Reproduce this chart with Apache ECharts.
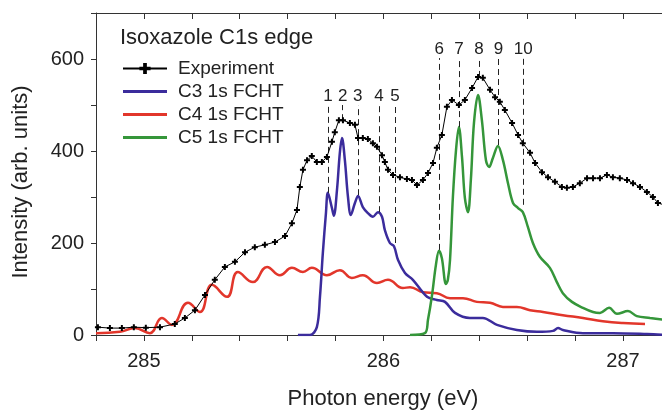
<!DOCTYPE html>
<html>
<head>
<meta charset="utf-8">
<script src="https://cdn.jsdelivr.net/npm/echarts@6/dist/echarts.min.js"></script>
<style>
html,body{margin:0;padding:0;background:#fff;overflow:hidden;width:662px;height:412px;}
#c{width:662px;height:412px;overflow:hidden;}
</style>
</head>
<body>
<div id="c"></div>
<script>
// ---------- data ----------
const titleText = 'Isoxazole C1s edge';
const xAxisTitle = 'Photon energy (eV)';
const yAxisTitle = 'Intensity (arb. units)';
const seriesNames = ['Experiment', 'C3 1s FCHT', 'C4 1s FCHT', 'C5 1s FCHT'];
const xTickLabels = [285, 286, 287];
const yTickLabels = [0, 200, 400, 600];

const expE = [284.808,284.858,284.908,284.958,285.008,285.067,285.129,285.171,285.213,285.255,285.296,285.338,285.380,285.422,285.463,285.505,285.547,285.589,285.618,285.639,285.651,285.664,285.681,285.701,285.722,285.743,285.764,285.785,285.797,285.814,285.831,285.860,285.881,285.894,285.914,285.935,285.956,285.973,285.994,286.006,286.019,286.040,286.069,286.098,286.119,286.140,286.165,286.186,286.207,286.223,286.244,286.265,286.286,286.315,286.340,286.370,286.395,286.415,286.445,286.466,286.486,286.507,286.537,286.562,286.582,286.612,286.633,286.662,286.687,286.716,286.745,286.766,286.791,286.820,286.850,286.875,286.904,286.933,286.958,286.987,287.017,287.042,287.071,287.100,287.125,287.146,287.171];
const expI = [17,15,15,17,16,17,24,37,54,87,120,148,159,180,191,196,202,215,243,272,322,359,380,389,376,376,387,420,441,467,467,461,457,428,428,426,417,409,391,376,359,348,343,339,337,326,337,352,374,407,435,496,511,500,511,537,561,559,533,517,507,489,461,435,417,396,374,354,343,333,322,320,322,330,341,341,341,348,343,341,337,330,322,311,300,287,283];

const c3E = [285.643,285.693,285.722,285.735,285.747,285.760,285.768,285.785,285.793,285.806,285.818,285.827,285.839,285.852,285.864,285.881,285.894,285.914,285.935,285.956,285.977,285.994,286.006,286.027,286.044,286.061,286.090,286.123,286.182,286.223,286.257,286.299,286.361,286.415,286.474,286.557,286.641,286.708,286.729,286.749,286.833,286.958,287.100,287.175];
const c3I = [0,0,17,83,178,265,309,276,259,315,396,428,380,300,261,287,302,278,265,257,267,257,228,200,193,163,135,120,83,76,72,48,37,37,22,11,7,9,15,11,4,4,2,0];

const c4E = [284.800,284.900,284.962,285.025,285.075,285.117,285.184,285.234,285.284,285.347,285.392,285.455,285.514,285.568,285.618,285.664,285.701,285.764,285.818,285.868,285.914,285.973,286.019,286.081,286.111,286.165,286.223,286.278,286.332,286.390,286.445,286.499,286.557,286.612,286.666,286.749,286.833,286.916,287.000,287.092];
const c4I = [4,7,15,4,37,22,70,50,109,83,137,115,148,130,146,137,146,130,141,124,130,113,120,102,104,93,91,80,80,72,70,61,61,54,50,43,37,30,26,24];

const c5E = [286.111,286.173,286.186,286.203,286.219,286.232,286.244,286.261,286.269,286.278,286.290,286.303,286.315,286.328,286.340,286.353,286.365,286.378,286.395,286.411,286.428,286.441,286.457,286.478,286.499,286.520,286.541,286.562,286.582,286.603,286.624,286.653,286.695,286.724,286.749,286.787,286.833,286.875,286.904,286.942,286.975,287.021,287.058,287.113,287.175];
const c5I = [0,4,33,87,152,183,167,111,120,163,300,402,452,387,298,267,337,461,522,467,380,365,385,411,380,330,287,276,267,235,200,170,146,115,91,72,59,50,48,59,46,52,41,37,33];

// peak markers (dashed lines)
const peakLabels   = ['1','2','3','4','5','6','7','8','9','10'];
const peakEnergies = [285.769,285.830,285.893,285.981,286.048,286.233,286.315,286.399,286.480,286.584];
const peakBottoms  = [309,467,304,267,200,185,452,561,413,283];
const peakTops     = [500,500,500,500,500,602,602,602,602,602];

// ---------- chart ----------
const zip = (a, b) => a.map((v, i) => [v, b[i]]);
const colors = ['#000000', '#3b2c9c', '#e2362b', '#35963a'];
const FONT = 'Liberation Sans, Arial, sans-serif';
const lineIcon = 'path://M0,0 L44,0 L44,3 L0,3 Z';
const X_MIN = 284.8, X_MAX = 287.163;

const peakLines = peakLabels.map((lab, i) => [
  { name: lab, coord: [peakEnergies[i], peakBottoms[i]] },
  { coord: [peakEnergies[i], peakTops[i]] }
]);

const chart = echarts.init(document.getElementById('c'), null, { renderer: 'canvas', width: 662, height: 412 });
chart.setOption({
  animation: false,
  backgroundColor: '#ffffff',
  textStyle: { fontFamily: FONT },
  title: {
    text: titleText, left: 115, top: 22,
    textStyle: { fontFamily: FONT, fontSize: 22, fontWeight: 'normal', color: '#222' }
  },
  legend: {
    left: 117, top: 53, orient: 'vertical',
    itemWidth: 44, itemHeight: 14, itemGap: 2,
    data: [
      { name: seriesNames[0] },
      { name: seriesNames[1], icon: lineIcon, itemStyle: { color: colors[1] } },
      { name: seriesNames[2], icon: lineIcon, itemStyle: { color: colors[2] } },
      { name: seriesNames[3], icon: lineIcon, itemStyle: { color: colors[3] } }
    ],
    textStyle: { fontFamily: FONT, fontSize: 19, color: '#222', lineHeight: 21, padding: [0, 0, 0, 6] }
  },
  grid: { left: 96, top: 13, right: 0, bottom: 77, containLabel: false },
  graphic: [{
    type: 'text', x: 21, y: 182, rotation: Math.PI / 2,
    style: { text: yAxisTitle, fontFamily: FONT, fontSize: 22, fill: '#222', align: 'center', verticalAlign: 'middle' }
  }, {
    type: 'text', x: 383, y: 399,
    style: { text: xAxisTitle, fontFamily: FONT, fontSize: 22, fill: '#222', align: 'center', verticalAlign: 'middle' }
  }],
  xAxis: [{
    type: 'value', min: X_MIN, max: X_MAX, interval: 0.2,
    axisLine: { show: true, lineStyle: { color: '#333', width: 1 } },
    axisTick: { show: true, inside: false, length: 6, lineStyle: { color: '#333' } },
    axisLabel: {
      margin: 16, fontFamily: FONT, fontSize: 20, color: '#222', showMaxLabel: false,
      formatter: v => { const r = Math.round(v); return (Math.abs(v - r) < 1e-6 && xTickLabels.includes(r)) ? String(r) : ''; }
    },
    splitLine: { show: false }
  }, {
    type: 'value', position: 'top', min: X_MIN, max: X_MAX, interval: 0.2,
    axisLine: { show: true, lineStyle: { color: '#333', width: 1 } },
    axisTick: { show: true, inside: true, length: 6, lineStyle: { color: '#333' } },
    axisLabel: { show: false }, splitLine: { show: false }
  }],
  yAxis: {
    type: 'value', min: 0, max: 700, interval: 100,
    axisLine: { show: true, lineStyle: { color: '#333', width: 1 } },
    axisTick: { show: true, length: 5, lineStyle: { color: '#333' } },
    axisLabel: {
      margin: 12, fontFamily: FONT, fontSize: 20, color: '#222',
      formatter: v => yTickLabels.includes(v) ? String(v) : ''
    },
    splitLine: { show: false }
  },
  series: [
    {
      name: seriesNames[1], type: 'line', data: zip(c3E, c3I), smooth: 0.35, symbol: 'none',
      lineStyle: { color: colors[1], width: 2.5 }, itemStyle: { color: colors[1] }, z: 3
    },
    {
      name: seriesNames[2], type: 'line', data: zip(c4E, c4I), smooth: 0.45, symbol: 'none',
      lineStyle: { color: colors[2], width: 2.5 }, itemStyle: { color: colors[2] }, z: 2
    },
    {
      name: seriesNames[3], type: 'line', data: zip(c5E, c5I), smooth: 0.35, symbol: 'none',
      lineStyle: { color: colors[3], width: 2.5 }, itemStyle: { color: colors[3] }, z: 3
    },
    {
      name: seriesNames[0], type: 'line', data: zip(expE, expI), smooth: false,
      symbol: 'path://M-1,-3 L1,-3 L1,-1 L3,-1 L3,1 L1,1 L1,3 L-1,3 L-1,1 L-3,1 L-3,-1 L-1,-1 Z',
      symbolSize: 6, showSymbol: true,
      lineStyle: { color: colors[0], width: 1 }, itemStyle: { color: colors[0] }, z: 5,
      markLine: {
        silent: true, symbol: ['none', 'none'],
        lineStyle: { color: '#222', width: 1, type: [6, 4] },
        label: { show: true, position: 'end', formatter: p => p.name, fontFamily: FONT, fontSize: 17, color: '#222', distance: 0 },
        data: peakLines
      }
    }
  ]
});
</script>
</body>
</html>
